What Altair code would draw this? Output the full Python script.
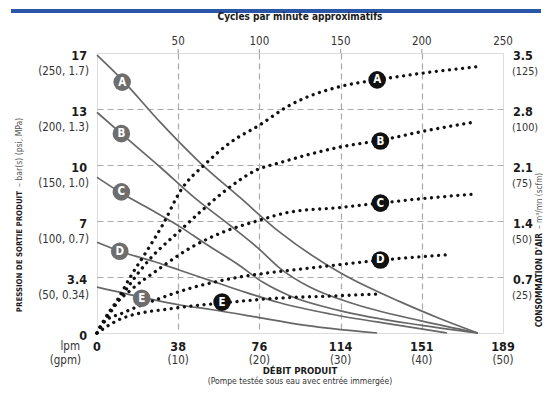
import altair as alt
import pandas as pd

F = "Liberation Sans Narrow, Arial Narrow, DejaVu Sans Condensed, Liberation Sans, sans-serif"
W, H = 406, 280

# ---------- data: product outlet pressure curves (gpm, psi) ----------
curves_press = ["A", "B", "C", "D", "E"]
A_gpm = [0, 3.1, 7.8, 12.7, 17.6, 22.5, 29.9, 37.3, 42.2, 46.9]
A_psi = [248, 226, 188, 152, 121, 90, 54, 28, 13, 0]
B_gpm = [0, 3.0, 7.8, 12.3, 16.4, 19.8, 22.5, 26.2, 31.2, 39.8, 46.9]
B_psi = [197, 178, 148, 119, 96, 76, 58, 41, 27, 11, 0]
C_gpm = [0, 3.0, 7.4, 10.2, 13.5, 17.2, 20.5, 23.8, 29.9, 39.8, 46.9]
C_psi = [139, 125, 107, 95, 79, 62, 45, 33, 20, 7, 0]
D_gpm = [0, 2.8, 7.4, 10.2, 13.9, 17.6, 22.5, 28.7, 37.0, 43.1]
D_psi = [81, 73, 63, 56, 47, 38, 27, 17, 7, 0]
E_gpm = [0, 5.5, 10.2, 14.0, 19.8, 24.6, 34.5]
E_psi = [41, 32, 25, 21, 14, 8, 0]

# ---------- data: air consumption curves (gpm, scfm) ----------
Aa_gpm = [0, 0.7, 2.5, 4.1, 6.2, 8.2, 10.2, 13.5, 16.4, 20.1, 23.4, 29.9, 34.5, 40.1, 47.2]
Aa_scfm = [0, 4.5, 14.7, 25, 37, 49, 63, 76, 85, 93, 101, 110, 113, 116, 119]
Ba_gpm = [0, 2.0, 4.1, 6.5, 10.0, 12.7, 15.6, 19.8, 22.5, 29.9, 34.9, 40.1, 46.2]
Ba_scfm = [0, 11, 22, 33, 45, 54, 63, 73, 76, 83, 86, 90, 94]
Ca_gpm = [0, 1.6, 4.1, 7.4, 11.5, 15.5, 19.7, 23.8, 29.9, 34.9, 40.1, 46.3]
Ca_scfm = [0, 10, 19, 28, 38, 45, 50, 54, 56, 58, 60, 62]
Da_gpm = [0, 0.7, 3.2, 7.4, 11.5, 17.6, 23.8, 29.9, 34.9, 43.5]
Da_scfm = [0, 4.5, 9, 15, 20, 25, 28, 30.5, 32.5, 35]
Ea_gpm = [0, 3.2, 9.4, 15.4, 22.5, 28.7, 34.5]
Ea_scfm = [0, 6.7, 11, 13.4, 15.6, 16.5, 17.4]

# ---------- curve label positions ----------
press_lbl_gpm = [3.1, 3.0, 3.0, 2.8, 5.5]
press_lbl_psi = [224, 178, 126, 73, 31]
air_lbl_gpm = [34.5, 34.9, 34.9, 34.9, 15.4]
air_lbl_scfm = [113, 85.7, 58, 32.6, 13.8]

# ---------- axis tick labels ----------
psi_ticks = [0, 50, 100, 150, 200, 250]
bar_labels = ["0", "3.4", "7", "10", "13", "17"]
psi_mpa_labels = ["", "(50, 0.34)", "(100, 0.7)", "(150, 1.0)", "(200, 1.3)", "(250, 1.7)"]
scfm_ticks = [25, 50, 75, 100, 125]
m3_labels = ["0.7", "1.4", "2.1", "2.8", "3.5"]
scfm_labels = ["(25)", "(50)", "(75)", "(100)", "(125)"]
gpm_ticks = [0, 10, 20, 30, 40, 50]
lpm_labels = ["0", "38", "76", "114", "151", "189"]
gpm_labels = ["", "(10)", "(20)", "(30)", "(40)", "(50)"]
cpm_ticks = [50, 100, 150, 200, 250]
grid_gpm = [10, 20, 30, 40]

# ---------- tables ----------
press_rows = []
for c, gs, ps in zip(curves_press, [A_gpm, B_gpm, C_gpm, D_gpm, E_gpm],
                     [A_psi, B_psi, C_psi, D_psi, E_psi]):
    for g, p in zip(gs, ps):
        press_rows.append({"curve": c, "gpm": g, "psi": p})
press_df = pd.DataFrame(press_rows)

air_rows = []
for c, gs, ss in zip(curves_press, [Aa_gpm, Ba_gpm, Ca_gpm, Da_gpm, Ea_gpm],
                     [Aa_scfm, Ba_scfm, Ca_scfm, Da_scfm, Ea_scfm]):
    for g, s in zip(gs, ss):
        air_rows.append({"curve": c, "gpm": g, "scfm": s})
air_df = pd.DataFrame(air_rows)

plbl_df = pd.DataFrame({"curve": curves_press, "gpm": press_lbl_gpm, "psi": press_lbl_psi})
albl_df = pd.DataFrame({"curve": curves_press, "gpm": air_lbl_gpm, "scfm": air_lbl_scfm})
left_df = pd.DataFrame({"psi": psi_ticks, "num": bar_labels, "par": psi_mpa_labels})
right_df = pd.DataFrame({"scfm": scfm_ticks, "num": m3_labels, "par": scfm_labels})
bottom_df = pd.DataFrame({"gpm": gpm_ticks, "num": lpm_labels, "par": gpm_labels})
top_df = pd.DataFrame({"cpm": cpm_ticks})
grid_df = pd.DataFrame({"gpm": grid_gpm})

xs = alt.Scale(domain=[0, 50], nice=False, zero=False)
ys = alt.Scale(domain=[0, 250], nice=False)
xaxis = alt.Axis(values=grid_gpm, grid=True, labels=False, ticks=False, domain=False, title=None,
                 gridDash=[6, 4], gridColor="#a9a9a9", gridWidth=1.2)
yaxis = alt.Axis(values=[50, 100, 150, 200], grid=True, labels=False, ticks=False, domain=False,
                 title=None, gridDash=[6, 4], gridColor="#a9a9a9", gridWidth=1.2)

X = lambda f="gpm": alt.X(f + ":Q", scale=xs, axis=xaxis)
Y = lambda f="psi": alt.Y(f + ":Q", scale=ys, axis=yaxis)

header = alt.Chart(pd.DataFrame({"h": [1]})).mark_rule(color="#2a56a8", strokeWidth=4).encode(
    x=alt.value(-86), x2=alt.value(W + 38), y=alt.value(-42))

press = alt.Chart(press_df).mark_line(color="#676767", strokeWidth=1.7, interpolate="monotone").encode(
    x=X(), y=Y(), detail="curve:N")

air = alt.Chart(air_df).transform_calculate(psi="datum.scfm * 2").mark_line(
    color="#111111", strokeWidth=3.3, strokeDash=[0.01, 6.6], strokeCap="round",
    interpolate="monotone").encode(x=X(), y=Y(), detail="curve:N")

plbl_c = alt.Chart(plbl_df).mark_circle(size=310, color="#6e6e6e", opacity=1).encode(x=X(), y=Y())
plbl_t = alt.Chart(plbl_df).mark_text(color="white", fontWeight="bold", fontSize=11.5, font=F,
                                      baseline="middle", dy=0.5).encode(x=X(), y=Y(), text="curve:N")
albl_base = alt.Chart(albl_df).transform_calculate(psi="datum.scfm * 2")
albl_c = albl_base.mark_circle(size=310, color="#111111", opacity=1).encode(x=X(), y=Y())
albl_t = albl_base.mark_text(color="white", fontWeight="bold", fontSize=11.5, font=F,
                             baseline="middle", dy=0.5).encode(x=X(), y=Y(), text="curve:N")

top_ticks = alt.Chart(grid_df).mark_rule(color="#a9a9a9", strokeWidth=1.2).encode(
    x=X(), y=alt.value(-4), y2=alt.value(0))

# tick labels
num_style = dict(font=F, fontWeight="bold", fontSize=12.5, color="#1a1a1a", baseline="middle")
par_style = dict(font=F, fontSize=11.5, color="#333333", baseline="middle")

left_num = alt.Chart(left_df).mark_text(align="right", dy=3, **num_style).encode(
    x=alt.value(-10), y=Y(), text="num:N")
left_par = alt.Chart(left_df).mark_text(align="right", dy=19, **par_style).encode(
    x=alt.value(-8), y=Y(), text="par:N")
right_base = alt.Chart(right_df).transform_calculate(psi="datum.scfm * 2")
right_num = right_base.mark_text(align="left", dy=3, **num_style).encode(
    x=alt.value(W + 10), y=Y(), text="num:N")
right_par = right_base.mark_text(align="left", dy=19, font=F, fontSize=10.8, color="#333333",
                                 baseline="middle").encode(x=alt.value(W + 9), y=Y(), text="par:N")
bot_num = alt.Chart(bottom_df).mark_text(align="center", **num_style).encode(
    x=X(), y=alt.value(H + 14), text="num:N")
bot_par = alt.Chart(bottom_df).mark_text(align="center", **par_style).encode(
    x=X(), y=alt.value(H + 28), text="par:N")
top_lbl = alt.Chart(top_df).transform_calculate(gpm="datum.cpm / 5").mark_text(
    align="center", font=F, fontSize=11.5, color="#333333", baseline="middle").encode(
    x=X(), y=alt.value(-11), text="cpm:Q")

# unit & titles (annotation texts)
ann = []
def txt(s, x, y, **kw):
    style = dict(font=F, baseline="middle", color="#1a1a1a")
    style.update(kw)
    return alt.Chart(pd.DataFrame({"t": [s]})).mark_text(**style).encode(
        x=alt.value(x), y=alt.value(y), text="t:N")

ann.append(txt("lpm", -17, H + 14, align="right", fontSize=11.5, color="#333333"))
ann.append(txt("(gpm)", -16, H + 28, align="right", fontSize=11.5, color="#333333"))
ann.append(txt("DÉBIT PRODUIT", W / 2, H + 38, align="center", fontSize=9.5, fontWeight="bold"))
ann.append(txt("(Pompe testée sous eau avec entrée immergée)", W / 2, H + 51, align="center",
               fontSize=8.5, color="#333333", baseline="alphabetic"))
ann.append(txt("Cycles par minute approximatifs", W / 2, -36, align="center", fontSize=10,
               fontWeight="bold"))
ann.append(txt("PRESSION DE SORTIE PRODUIT", -75, 138, align="right", angle=270, fontSize=7.8,
               fontWeight="bold", baseline="alphabetic"))
ann.append(txt("– bar(s) (psi, MPa)", -75, 134, align="left", angle=270, fontSize=8.6,
               color="#555555", baseline="alphabetic"))
ann.append(txt("CONSOMMATION D'AIR", W + 38.5, 180, align="right", angle=270, fontSize=8.2,
               fontWeight="bold", baseline="alphabetic"))
ann.append(txt("– m³/mn (scfm)", W + 38.5, 176, align="left", angle=270, fontSize=8.2,
               color="#555555", baseline="alphabetic"))

chart = alt.layer(
    header, press, air, plbl_c, plbl_t, albl_c, albl_t, top_ticks,
    left_num, left_par, right_num, right_par, bot_num, bot_par, top_lbl, *ann
).properties(
    width=W, height=H,
    autosize=alt.AutoSizeParams(type="none"),
    padding={"left": 89, "top": 45, "right": 40, "bottom": 53},
).configure_view(stroke="#1a1a1a", strokeWidth=3).configure(background="white")

chart.save("out.html", embed_options={"renderer": "svg", "actions": False})
